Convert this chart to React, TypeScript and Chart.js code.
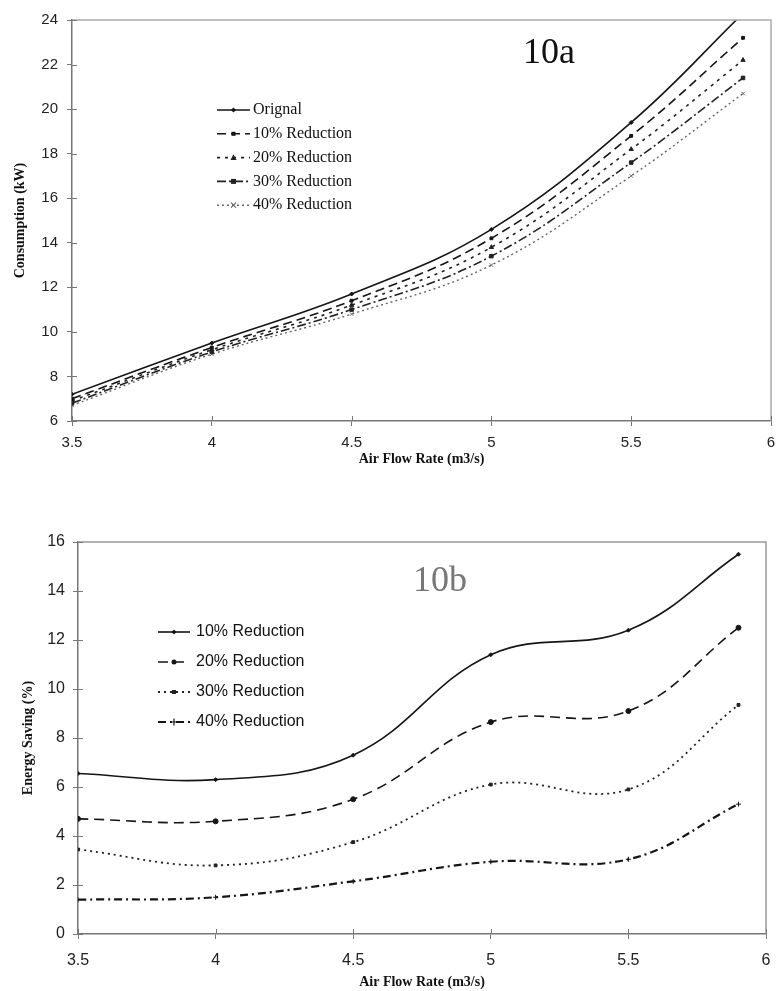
import React, { useEffect, useRef } from 'react';
import { Chart, registerables } from 'chart.js';

Chart.register(...registerables);

// ---------- data ----------
const airFlow = [3.5, 4, 4.5, 5, 5.5, 5.9];
const xTickValues = [3.5, 4, 4.5, 5, 5.5, 6];

const consLabels = ['Orignal', '10% Reduction', '20% Reduction', '30% Reduction', '40% Reduction'];
const consOriginal = [7.2, 9.5, 11.7, 14.6, 19.4, 24.3];
const cons10 = [7.0, 9.3, 11.4, 14.2, 18.8, 23.2];
const cons20 = [6.9, 9.2, 11.2, 13.8, 18.2, 22.2];
const cons30 = [6.8, 9.1, 11.0, 13.4, 17.6, 21.4];
const cons40 = [6.7, 9.0, 10.8, 13.0, 17.0, 20.7];

const saveLabels = ['10% Reduction', '20% Reduction', '30% Reduction', '40% Reduction'];
const save10 = [6.55, 6.3, 7.3, 11.4, 12.4, 15.5];
const save20 = [4.7, 4.6, 5.5, 8.65, 9.1, 12.5];
const save30 = [3.45, 2.8, 3.75, 6.1, 5.9, 9.35];
const save40 = [1.4, 1.5, 2.15, 2.95, 3.05, 5.3];

const xTitle = 'Air Flow Rate (m3/s)';
const consTitle = 'Consumption (kW)';
const saveTitle = 'Energy Saving (%)';

// ---------- helpers ----------
const SANS = "'Liberation Sans', Arial, sans-serif";
const SERIF = "'Liberation Serif', 'Times New Roman', serif";

function pts(ys: number[]) {
  return ys.map((y, i) => ({ x: airFlow[i], y }));
}

function drawMarker(ctx: CanvasRenderingContext2D, style: string, x: number, y: number, r: number, color: string) {
  ctx.save();
  ctx.fillStyle = color;
  ctx.strokeStyle = color;
  ctx.lineWidth = 1.2;
  ctx.setLineDash([]);
  ctx.beginPath();
  if (style === 'rect') {
    ctx.fillRect(x - r, y - r, 2 * r, 2 * r);
  } else if (style === 'rectRot') {
    ctx.moveTo(x, y - r * 1.3);
    ctx.lineTo(x + r * 1.3, y);
    ctx.lineTo(x, y + r * 1.3);
    ctx.lineTo(x - r * 1.3, y);
    ctx.closePath();
    ctx.fill();
  } else if (style === 'triangle') {
    ctx.moveTo(x, y - r * 1.3);
    ctx.lineTo(x + r * 1.2, y + r);
    ctx.lineTo(x - r * 1.2, y + r);
    ctx.closePath();
    ctx.fill();
  } else if (style === 'crossRot') {
    ctx.moveTo(x - r, y - r);
    ctx.lineTo(x + r, y + r);
    ctx.moveTo(x + r, y - r);
    ctx.lineTo(x - r, y + r);
    ctx.stroke();
  } else if (style === 'cross') {
    ctx.moveTo(x, y - r * 1.4);
    ctx.lineTo(x, y + r * 1.4);
    ctx.moveTo(x - r, y);
    ctx.lineTo(x + r, y);
    ctx.stroke();
  } else {
    ctx.arc(x, y, r, 0, Math.PI * 2);
    ctx.fill();
  }
  ctx.restore();
}

type Decor = {
  frameColor: string;
  axisColor: string;
  innerTick: number;
  label: string;
  labelFont: string;
  labelColor: string;
  labelX: number;
  labelY: number;
  legendX: number;
  legendY: number;
  legendGap: number;
  legendSample: number;
  legendTextGap: number;
  legendFont: string;
};

function makeDecor(d: Decor) {
  return {
    id: 'decor',
    afterDraw(chart: any) {
      const ctx: CanvasRenderingContext2D = chart.ctx;
      const a = chart.chartArea;
      ctx.save();
      ctx.strokeStyle = d.frameColor;
      ctx.lineWidth = 1.5;
      ctx.beginPath();
      ctx.moveTo(a.left, a.top);
      ctx.lineTo(a.right, a.top);
      ctx.lineTo(a.right, a.bottom);
      ctx.stroke();
      ctx.strokeStyle = d.axisColor;
      ctx.lineWidth = 1;
      const xs = chart.scales.x;
      const ys = chart.scales.y;
      xs.ticks.forEach((t: any) => {
        const px = Math.round(xs.getPixelForValue(t.value)) + 0.5;
        ctx.beginPath();
        ctx.moveTo(px, a.bottom);
        ctx.lineTo(px, a.bottom - d.innerTick);
        ctx.stroke();
      });
      ys.ticks.forEach((t: any) => {
        const py = Math.round(ys.getPixelForValue(t.value)) + 0.5;
        ctx.beginPath();
        ctx.moveTo(a.left, py);
        ctx.lineTo(a.left + d.innerTick, py);
        ctx.stroke();
      });
      ctx.font = d.labelFont;
      ctx.fillStyle = d.labelColor;
      ctx.textAlign = 'left';
      ctx.textBaseline = 'alphabetic';
      ctx.fillText(d.label, d.labelX, d.labelY);
      ctx.font = d.legendFont;
      ctx.textBaseline = 'middle';
      chart.data.datasets.forEach((ds: any, i: number) => {
        const y = d.legendY + i * d.legendGap;
        const x0 = d.legendX;
        const x1 = d.legendX + d.legendSample;
        ctx.save();
        ctx.strokeStyle = ds.borderColor;
        ctx.lineWidth = ds.borderWidth;
        ctx.setLineDash(ds.borderDash || []);
        ctx.beginPath();
        ctx.moveTo(x0, y);
        ctx.lineTo(x1, y);
        ctx.stroke();
        ctx.restore();
        drawMarker(ctx, ds.pointStyle, (x0 + x1) / 2, y, ds.pointRadius, ds.borderColor);
        ctx.fillStyle = '#111';
        ctx.fillText(ds.label, x1 + d.legendTextGap, y);
      });
      ctx.restore();
    },
  };
}

function lineDs(label: string, ys: number[], color: string, dash: number[], style: string, width: number, r: number) {
  return {
    label,
    data: pts(ys),
    borderColor: color,
    backgroundColor: color,
    borderWidth: width,
    borderDash: dash,
    pointStyle: style,
    pointRadius: r,
    pointBorderWidth: 1,
    tension: 0.4,
    fill: false,
  };
}

function makeOptions(o: {
  yMin: number; yMax: number; yTitle: string; yWidth: number; xHeight: number;
  padTop: number; padRight: number; tickFont: number; yTitlePad: number; xTitlePad: number;
  xTickPad: number; yTickPad: number;
}) {
  return {
    responsive: false,
    animation: false as const,
    layout: { padding: { top: o.padTop, right: o.padRight, left: 0, bottom: 0 } },
    plugins: { legend: { display: false }, tooltip: { enabled: false } },
    scales: {
      x: {
        type: 'linear' as const,
        min: 3.5,
        max: 6,
        afterFit: (s: any) => { s.height = o.xHeight; s.paddingRight = 0; },
        afterBuildTicks: (s: any) => {
          s.ticks = xTickValues.map((v) => ({ value: v }));
        },
        ticks: {
          color: '#222',
          font: { family: SANS, size: o.tickFont },
          padding: o.xTickPad,
          maxRotation: 0,
          autoSkip: false,
          callback: (v: any) => String(Number(v)),
        },
        grid: { display: true, drawOnChartArea: false, drawTicks: true, tickLength: 5, color: '#777', lineWidth: 1 },
        border: { display: true, color: '#777', width: 1.5 },
        title: {
          display: true,
          text: xTitle,
          color: '#111',
          font: { family: SERIF, size: 14, weight: 'bold' as const },
          padding: { top: 0, bottom: o.xTitlePad },
        },
      },
      y: {
        type: 'linear' as const,
        min: o.yMin,
        max: o.yMax,
        afterFit: (s: any) => { s.width = o.yWidth; },
        ticks: {
          stepSize: 2,
          color: '#222',
          font: { family: SANS, size: o.tickFont },
          padding: o.yTickPad,
        },
        grid: { display: true, drawOnChartArea: false, drawTicks: true, tickLength: 5, color: '#777', lineWidth: 1 },
        border: { display: true, color: '#777', width: 1.5 },
        title: {
          display: true,
          text: o.yTitle,
          color: '#111',
          font: { family: SERIF, size: 14, weight: 'bold' as const },
          padding: { top: o.yTitlePad, bottom: 0 },
        },
      },
    },
  };
}

export default function App() {
  const topRef = useRef<HTMLCanvasElement | null>(null);
  const botRef = useRef<HTMLCanvasElement | null>(null);

  useEffect(() => {
    const black = '#151515';
    const c1 = new Chart(topRef.current as HTMLCanvasElement, {
      type: 'line',
      data: {
        datasets: [
          lineDs(consLabels[0], consOriginal, black, [], 'rectRot', 1.6, 2),
          lineDs(consLabels[1], cons10, black, [9, 5], 'rect', 1.6, 2),
          lineDs(consLabels[2], cons20, '#222', [3, 5], 'triangle', 1.6, 2.5),
          lineDs(consLabels[3], cons30, '#222', [9, 3, 2, 3], 'rect', 1.6, 2.5),
          lineDs(consLabels[4], cons40, '#666', [2, 3], 'crossRot', 1.4, 2.5),
        ],
      },
      options: makeOptions({
        yMin: 6, yMax: 24, yTitle: consTitle, yWidth: 72, xHeight: 54,
        padTop: 20, padRight: 4, tickFont: 15, yTitlePad: 12, xTitlePad: 7,
        xTickPad: 8, yTickPad: 9,
      }) as any,
      plugins: [
        makeDecor({
          frameColor: '#aaa', axisColor: '#777', innerTick: 5,
          label: '10a', labelFont: `36px ${SERIF}`, labelColor: '#111', labelX: 523, labelY: 63,
          legendX: 217, legendY: 110, legendGap: 23.8, legendSample: 33, legendTextGap: 3,
          legendFont: `16px ${SERIF}`,
        }),
      ],
    });

    const c2 = new Chart(botRef.current as HTMLCanvasElement, {
      type: 'line',
      data: {
        datasets: [
          lineDs(saveLabels[0], save10, black, [], 'rectRot', 1.6, 2),
          lineDs(saveLabels[1], save20, black, [10, 6], 'circle', 1.6, 2.5),
          lineDs(saveLabels[2], save30, '#222', [2, 4], 'rect', 1.8, 2),
          lineDs(saveLabels[3], save40, black, [8, 4, 2, 4], 'cross', 2.2, 2.5),
        ],
      },
      options: makeOptions({
        yMin: 0, yMax: 16, yTitle: saveTitle, yWidth: 78, xHeight: 57,
        padTop: 42, padRight: 10, tickFont: 16, yTitlePad: 20, xTitlePad: 0,
        xTickPad: 12, yTickPad: 8,
      }) as any,
      plugins: [
        makeDecor({
          frameColor: '#999', axisColor: '#777', innerTick: 5,
          label: '10b', labelFont: `36px ${SERIF}`, labelColor: '#777', labelX: 413, labelY: 91,
          legendX: 158, legendY: 132, legendGap: 30, legendSample: 32, legendTextGap: 6,
          legendFont: `16px ${SANS}`,
        }),
      ],
    });

    return () => {
      c1.destroy();
      c2.destroy();
    };
  }, []);

  return (
    <div style={{ position: 'absolute', left: 0, top: 0, width: 776, height: 991, background: '#fff', overflow: 'hidden' }}>
      <canvas ref={topRef} width={776} height={475} style={{ position: 'absolute', left: 0, top: 0, width: 776, height: 475 }} />
      <canvas ref={botRef} width={776} height={491} style={{ position: 'absolute', left: 0, top: 500, width: 776, height: 491 }} />
    </div>
  );
}
